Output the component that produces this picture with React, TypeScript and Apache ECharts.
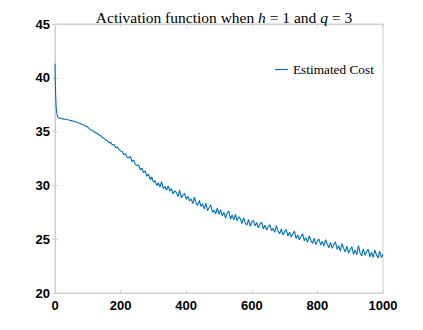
import React, { useEffect, useRef } from "react";
import * as echarts from "echarts";

const earlyIters = [0, 1, 2, 3, 4, 5, 6, 7, 8, 9, 10];
const earlyCost = [41.3, 39.6, 38.4, 37.6, 37.1, 36.8, 36.6, 36.5, 36.4, 36.35, 36.3];

// cost sampled every 5 iterations from 15 to 1000
const cost = [
  36.25, 36.2, 36.18, 36.15, 36.12, 36.1, 36.05, 36.02, 35.98, 35.93, 35.9, 35.82, 35.78, 35.7, 35.65, 35.55, 35.5, 35.42,
  35.25, 35.15, 35.1, 34.95, 34.9, 34.8, 34.68, 34.6, 34.45, 34.35,
  34.2, 34.15, 33.95, 34.0, 33.75, 33.8, 33.5, 33.6, 33.35, 33.2,
  33.15, 32.85, 32.95, 32.6, 32.55, 32.7, 32.2, 32.35, 31.95, 31.85,
  31.9, 31.45, 31.6, 31.2, 31.35, 30.85, 31.05, 30.55, 30.8, 30.3,
  30.45, 30.0, 30.25, 29.85, 30.35, 29.7, 29.9, 29.55, 29.95, 29.45,
  29.7, 29.2, 29.5, 29.35, 28.95, 29.55, 28.85, 29.1, 29.25, 28.7,
  29.0, 28.55, 28.75, 28.3, 28.9, 28.35, 28.15, 28.6, 28.05, 28.3,
  27.8, 28.35, 27.65, 27.95, 28.2, 27.5, 27.7, 27.35, 27.9, 27.3,
  27.75, 27.15, 27.5, 26.95, 27.45, 27.6, 26.85, 27.25, 26.8, 27.3,
  26.7, 27.1, 26.9, 26.45, 27.0, 26.5, 26.3, 26.85, 26.2, 26.6,
  26.75, 26.25, 26.55, 26.05, 26.4, 26.6, 25.95, 26.3, 25.85, 26.15,
  26.35, 25.8, 26.0, 25.65, 26.25, 25.75, 25.5, 25.95, 25.4, 25.7,
  25.9, 25.3, 25.65, 25.2, 25.5, 25.75, 25.05, 25.4, 24.95, 25.25,
  25.5, 24.85, 25.15, 24.7, 25.3, 24.9, 24.6, 25.1, 24.5, 24.85,
  25.0, 24.45, 24.8, 24.35, 24.95, 24.55, 24.2, 24.7, 24.15, 24.5,
  24.75, 24.05, 24.4, 23.9, 24.6, 24.15, 23.8, 24.35, 23.7, 24.05,
  24.3, 23.6, 24.0, 23.55, 24.4, 23.75, 23.45, 24.1, 23.5, 23.85,
  24.05, 23.35, 23.8, 23.3, 24.0, 23.55, 23.25, 23.9, 23.3, 23.6,
];

const seriesName = "Estimated Cost";

export default function App() {
  const ref = useRef<HTMLDivElement>(null);
  useEffect(() => {
    if (!ref.current) return;
    const chart = echarts.init(ref.current, undefined, { renderer: "svg" });
    const data: [number, number][] = [];
    earlyIters.forEach((it, i) => data.push([it, earlyCost[i]]));
    cost.forEach((v, i) => data.push([15 + i * 5, v]));
    const axisGray = "#cfcfcf";
    const labelStyle = {
      color: "#000",
      fontFamily: "Liberation Sans, Arial, sans-serif",
      fontWeight: "bold" as const,
      fontSize: 13,
      formatter: (v: number) => String(v),
    };
    const serif = "Liberation Serif, Times New Roman, serif";
    const tickCfg = { show: true, inside: true, length: 3, lineStyle: { color: axisGray } };
    chart.setOption({
      animation: false,
      backgroundColor: "#fff",
      title: {
        text: "{a|Activation function when }{i|h}{a| = 1 and }{i|q}{a| = 3}",
        left: 219,
        textAlign: "center",
        top: 4,
        textStyle: {
          fontWeight: "normal",
          rich: {
            a: { fontFamily: serif, fontSize: 15.5, fontWeight: "normal", color: "#000" },
            i: { fontFamily: serif, fontSize: 15.5, fontWeight: "normal", fontStyle: "italic", color: "#000" },
          },
        },
      },
      legend: {
        left: 270,
        top: 58,
        icon: "rect",
        itemWidth: 13,
        itemHeight: 1.2,
        data: [seriesName],
        textStyle: { fontFamily: serif, fontSize: 13.3, color: "#000" },
      },
      grid: {
        left: 55,
        right: 40,
        top: 24,
        bottom: 37,
        show: true,
        borderColor: axisGray,
        borderWidth: 1,
      },
      xAxis: [
        {
          type: "value",
          min: 0,
          max: 1000,
          interval: 200,
          position: "bottom",
          axisLine: { show: true, lineStyle: { color: axisGray } },
          axisTick: tickCfg,
          splitLine: { show: false },
          axisLabel: { ...labelStyle, margin: 6 },
        },
        {
          type: "value",
          min: 0,
          max: 1000,
          interval: 200,
          position: "top",
          axisLine: { show: true, lineStyle: { color: axisGray } },
          axisTick: tickCfg,
          splitLine: { show: false },
          axisLabel: { show: false },
        },
      ],
      yAxis: [
        {
          type: "value",
          min: 20,
          max: 45,
          interval: 5,
          position: "left",
          axisLine: { show: true, lineStyle: { color: axisGray } },
          axisTick: tickCfg,
          splitLine: { show: false },
          axisLabel: { ...labelStyle, margin: 5 },
        },
        {
          type: "value",
          min: 20,
          max: 45,
          interval: 5,
          position: "right",
          axisLine: { show: true, lineStyle: { color: axisGray } },
          axisTick: tickCfg,
          splitLine: { show: false },
          axisLabel: { show: false },
        },
      ],
      series: [
        {
          name: seriesName,
          type: "line",
          data,
          symbol: "none",
          lineStyle: { color: "#0072BD", width: 1.1 },
          itemStyle: { color: "#0072BD" },
        },
      ],
    });
    return () => chart.dispose();
  }, []);
  return <div ref={ref} style={{ width: 423, height: 330, position: "absolute", left: 0, top: 0 }} />;
}
